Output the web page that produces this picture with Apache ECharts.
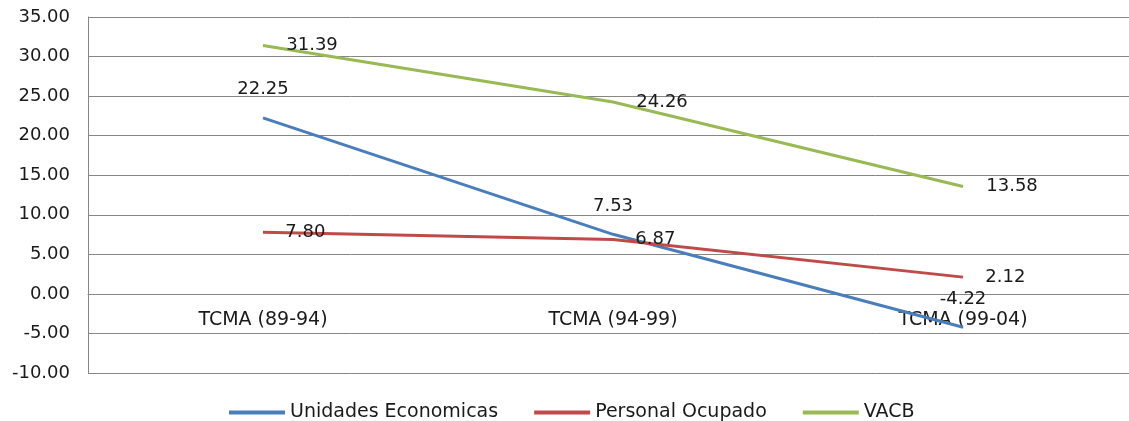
<!DOCTYPE html>
<html>
<head>
<meta charset="utf-8">
<script src="https://cdn.jsdelivr.net/npm/echarts@6/dist/echarts.min.js"></script>
<style>
    html, body { margin: 0; padding: 0; background: #ffffff; overflow: hidden; }
    /* a bit wider than the window: the plot area runs past the right edge */
    #chart { width: 1140px; height: 421px; }
</style>
</head>
<body>
<div id="chart"></div>
<script>
var categories = ['TCMA (89-94)', 'TCMA (94-99)', 'TCMA (99-04)'];
var unidades = [22.25, 7.53, -4.22];
var personal = [7.80, 6.87, 2.12];
var vacb = [31.39, 24.26, 13.58];
var seriesNames = ['Unidades Economicas', 'Personal Ocupado', 'VACB'];

var fontFamily = '"DejaVu Sans", sans-serif';

function valueLabel(position, distance) {
    return {
        show: true,
        position: position,
        distance: distance,
        color: '#1a1a1a',
        fontSize: 18,
        fontFamily: fontFamily,
        formatter: function (p) {
            return p.value.toFixed(2);
        }
    };
}

function lineSeries(name, data, color, label) {
    return {
        name: name,
        type: 'line',
        data: data,
        symbol: 'circle',
        symbolSize: 0.5,
        color: color,
        itemStyle: { color: color },
        lineStyle: { width: 3, color: color },
        label: label
    };
}

var option = {
    animation: false,
    backgroundColor: '#ffffff',
    grid: {
        left: 88,
        right: 2,
        top: 17,
        bottom: 48
    },
    legend: {
        data: seriesNames,
        left: 224,
        top: 398,
        itemWidth: 56,
        itemHeight: 4,
        itemGap: 36,
        icon: 'rect',
        textStyle: {
            color: '#1a1a1a',
            fontSize: 19,
            fontFamily: fontFamily
        }
    },
    xAxis: {
        type: 'category',
        data: categories,
        boundaryGap: true,
        // axis drawn on the 0.00 line
        offset: -79,
        axisLine: { show: true, onZero: false, lineStyle: { color: '#868686', width: 1 } },
        axisTick: { show: false },
        axisLabel: {
            margin: 17,
            color: '#1a1a1a',
            fontSize: 19,
            fontFamily: fontFamily
        },
        splitLine: { show: false }
    },
    yAxis: {
        type: 'value',
        min: -10,
        max: 35,
        interval: 5,
        axisLine: { show: true, lineStyle: { color: '#868686', width: 1 } },
        axisTick: { show: false },
        axisLabel: {
            margin: 18,
            color: '#1a1a1a',
            fontSize: 18,
            fontFamily: fontFamily,
            formatter: function (v) {
                return v.toFixed(2);
            }
        },
        splitLine: { show: true, lineStyle: { color: '#868686', width: 1 } }
    },
    series: [
        lineSeries(seriesNames[0], unidades, '#4A7EBB', valueLabel('top', 19)),
        lineSeries(seriesNames[1], personal, '#BE4B48', valueLabel('right', 22)),
        lineSeries(seriesNames[2], vacb, '#98B954', valueLabel('right', 23))
    ]
};

var chart = echarts.init(document.getElementById('chart'));
chart.setOption(option);
</script>
</body>
</html>
